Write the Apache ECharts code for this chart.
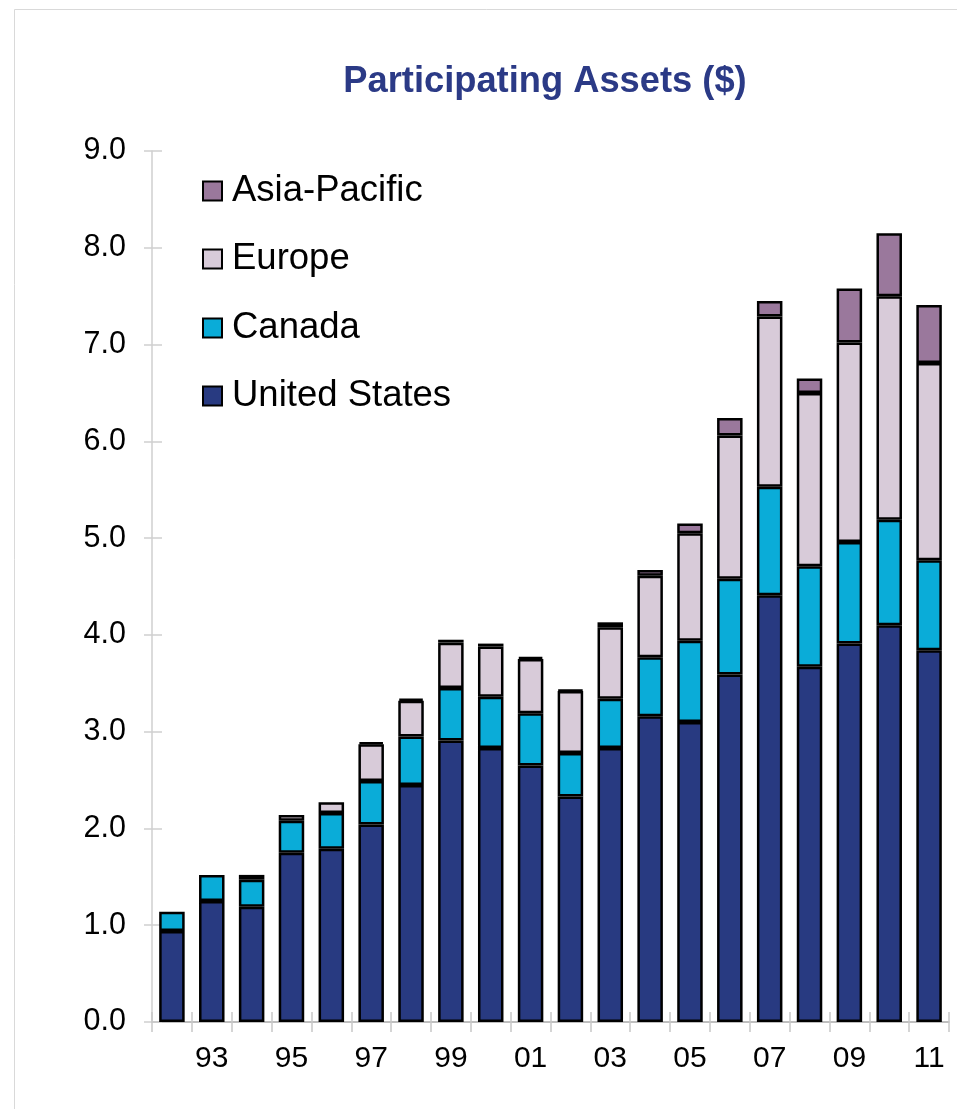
<!DOCTYPE html>
<html>
<head>
<meta charset="utf-8">
<script src="https://cdn.jsdelivr.net/npm/echarts@6/dist/echarts.min.js"></script>
<style>
html,body{margin:0;padding:0;background:#fff;}
#c{width:957px;height:1109px;}
</style>
</head>
<body>
<div id="c"></div>
<script>
var years = ['92','93','94','95','96','97','98','99','00','01','02','03','04','05','06','07','08','09','10','11'];
var unitedStates = [0.94,1.25,1.19,1.75,1.79,2.04,2.45,2.91,2.83,2.65,2.33,2.83,3.16,3.10,3.59,4.41,3.67,3.91,4.10,3.84];
var canada = [0.20,0.27,0.28,0.33,0.37,0.45,0.50,0.54,0.53,0.54,0.45,0.51,0.61,0.84,0.99,1.12,1.04,1.05,1.09,0.93];
var europe = ['-','-',0.05,0.06,0.11,0.38,0.37,0.47,0.52,0.56,0.64,0.74,0.84,1.11,1.48,1.76,1.79,2.06,2.31,2.04];
var asiaPacific = ['-','-','-','-','-',0.02,0.02,0.03,0.03,0.02,0.01,0.05,0.06,0.10,0.18,0.16,0.15,0.56,0.65,0.60];
var yTicks = [0,1,2,3,4,5,6,7,8,9];
var titleText = 'Participating Assets ($)';

var FONT = '"Liberation Sans", Arial, sans-serif';
var colors = {
  'United States': '#283a81',
  'Canada': '#0aacd8',
  'Europe': '#d8cbd9',
  'Asia-Pacific': '#9a789c'
};
var chart = echarts.init(document.getElementById('c'), null, {renderer: 'canvas'});

function mkSeries(name, data) {
  return {
    name: name, type: 'bar', stack: 'total', data: data,
    barWidth: 25.5,
    itemStyle: {color: colors[name], borderColor: '#000', borderWidth: 2.5},
    emphasis: {disabled: true}
  };
}
function mkLegend(name, centerY) {
  return {
    data: [name], left: 202, top: centerY - 20, padding: 0,
    icon: 'rect', itemWidth: 19, itemHeight: 19,
    selectedMode: false,
    itemStyle: {borderWidth: 2},
    textStyle: {fontFamily: FONT, fontSize: 36.5, color: '#000', lineHeight: 40, padding: [3,0,0,5]}
  };
}

var option = {
  animation: false,
  backgroundColor: '#fff',
  textStyle: {fontFamily: FONT},
  graphic: [
    {type: 'rect', shape: {x: 14.5, y: 9.5, width: 1000, height: 1200}, style: {fill: 'none', stroke: '#d9d9d9', lineWidth: 1}, silent: true},
    {type: 'text', x: 545, y: 82, style: {text: titleText, fontFamily: FONT, fontSize: 36.3, fontWeight: 'bold', fill: '#2b3a86', align: 'center', verticalAlign: 'middle'}}
  ],
  legend: [
    mkLegend('Asia-Pacific', 189.5),
    mkLegend('Europe', 257.5),
    mkLegend('Canada', 326.5),
    mkLegend('United States', 394.5)
  ],
  grid: {left: 152, right: 8, top: 151, bottom: 87, containLabel: false},
  xAxis: [{
    type: 'category', data: years, position: 'bottom',
    axisLine: {show: true, lineStyle: {color: '#ababab', width: 1.5}},
    axisTick: {show: true, interval: 0, length: 10, lineStyle: {color: '#c8c8c8', width: 1.5}},
    axisLabel: {interval: function(i){return i % 2 === 1;}, fontFamily: FONT, fontSize: 30, color: '#000', margin: 22},
    splitLine: {show: false}
  }, {
    type: 'category', data: years, position: 'bottom',
    axisLine: {show: false},
    axisTick: {show: true, inside: true, interval: 0, length: 10, lineStyle: {color: '#c8c8c8', width: 1.5}},
    axisLabel: {show: false},
    splitLine: {show: false}
  }],
  yAxis: [{
    type: 'value', min: yTicks[0], max: yTicks[yTicks.length-1], interval: 1, position: 'left',
    axisLine: {show: true, lineStyle: {color: '#cfcfcf', width: 1.5}},
    axisTick: {show: true, length: 8, lineStyle: {color: '#cfcfcf', width: 1.5}},
    axisLabel: {fontFamily: FONT, fontSize: 30.5, color: '#000', margin: 26, formatter: function(v){return v.toFixed(1);}},
    splitLine: {show: false}
  }, {
    type: 'value', min: yTicks[0], max: yTicks[yTicks.length-1], interval: 1, position: 'left',
    axisLine: {show: false},
    axisTick: {show: true, inside: true, length: 10, lineStyle: {color: '#cfcfcf', width: 1.5}},
    axisLabel: {show: false},
    splitLine: {show: false}
  }],
  series: [
    mkSeries('United States', unitedStates),
    mkSeries('Canada', canada),
    mkSeries('Europe', europe),
    mkSeries('Asia-Pacific', asiaPacific)
  ]
};
chart.setOption(option);
</script>
</body>
</html>
